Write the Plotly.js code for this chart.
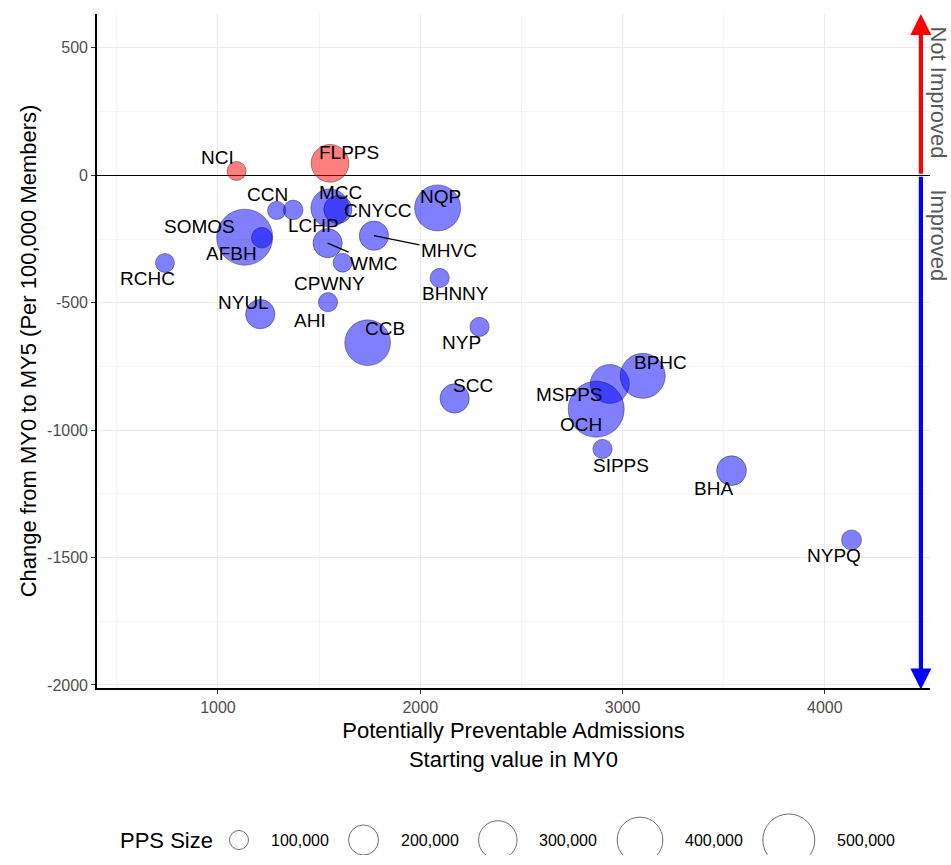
<!DOCTYPE html>
<html>
<head>
<meta charset="utf-8">
<script src="https://cdn.plot.ly/plotly-3.0.1.min.js"></script>
<style>
  html, body { margin: 0; padding: 0; background: #fff; }
  #chart { width: 951px; height: 865px; }
</style>
</head>
<body>
<div id="chart"></div>
<script>
// PPA scatter: starting value in MY0 vs change MY0 -> MY5, bubble = PPS size

const ppsNames = ['RCHC', 'NCI', 'FLPPS', 'CCN', 'LCHP', 'MCC', 'CNYCC', 'NQP', 'MHVC', 'SOMOS',
  'AFBH', 'WMC', 'CPWNY', 'BHNNY', 'AHI', 'NYUL', 'CCB', 'NYP', 'SCC', 'MSPPS',
  'BPHC', 'OCH', 'SIPPS', 'BHA', 'NYPQ'];
const startValue = [738, 1092, 1554, 1290, 1372, 1553, 1593, 2086, 1771, 1132,
  1217, 1542, 1616, 2096, 1544, 1209, 1740, 2293, 2170, 2937,
  3100, 2870, 2901, 3539, 4132];
const changeValue = [-344, 17, 47, -138, -136, -128, -134, -128, -237, -243,
  -245, -266, -343, -403, -498, -545, -657, -595, -876, -819,
  -787, -918, -1074, -1159, -1431];
const ppsMembers = [100000, 100000, 290000, 95000, 105000, 293000, 180000, 405000, 192000, 570000,
  113000, 191000, 100000, 102000, 102000, 192000, 400000, 102000, 192000, 306000,
  390000, 570000, 102000, 197000, 108000];

const xTicks = [1000, 2000, 3000, 4000];
const yTicks = [500, 0, -500, -1000, -1500, -2000];
const sizeBreaks = [100000, 200000, 300000, 400000, 500000];
const sizeBreakLabels = ['100,000', '200,000', '300,000', '400,000', '500,000'];

// label placement (px offset from the point, + is right / down)
const labelOffsets = {
  RCHC: [-17, 16], NCI: [-19, -13], FLPPS: [19, -11], CCN: [-9, -16], LCHP: [20, 16],
  MCC: [11, -15], CNYCC: [40, 1], NQP: [3, -11], SOMOS: [-45, -11], AFBH: [-30, 16],
  CPWNY: [-13, 21], BHNNY: [16, 16], AHI: [-18, 18], NYUL: [-17, -12], CCB: [17, -14],
  NYP: [-18, 16], SCC: [18, -13], MSPPS: [-40, 11], BPHC: [18, -13], OCH: [-15, 15],
  SIPPS: [18, 17], BHA: [-18, 18], NYPQ: [-18, 16]
};
// labels pushed away with a leader segment
const segmentLabels = { WMC: [46, 20], MHVC: [75, 15] };

const FONT = 'Liberation Sans, Arial, sans-serif';
const bubbleSize = v => -7.7 + 26.7 * Math.sqrt(v / 100000);

const fillFor = y => y > 0 ? 'rgba(255,0,0,0.5)' : 'rgba(0,0,255,0.5)';

const bubbles = {
  x: startValue,
  y: changeValue,
  type: 'scatter',
  mode: 'markers',
  marker: {
    size: ppsMembers.map(bubbleSize),
    sizemode: 'diameter',
    opacity: 1,
    color: changeValue.map(fillFor),
    line: { color: 'rgba(0,0,0,0.45)', width: 0.8 }
  },
  text: ppsNames,
  hovertemplate: '%{text}<extra></extra>',
  showlegend: false,
  cliponaxis: false
};

// size legend drawn on a hidden pixel-scaled axis pair
const legendSizes = sizeBreaks.map(bubbleSize);
const legendX = [];
legendSizes.forEach((d, i) => {
  legendX.push(i === 0 ? 239 : legendX[i - 1] + (legendSizes[i - 1] + d) / 2 + 100);
});
const legendY = 840;

const sizeLegend = {
  x: legendX,
  y: legendX.map(() => legendY),
  xaxis: 'x2',
  yaxis: 'y2',
  type: 'scatter',
  mode: 'markers',
  marker: { size: legendSizes, sizemode: 'diameter', opacity: 1, color: '#fff', line: { color: '#6e6e6e', width: 1 } },
  hoverinfo: 'skip',
  showlegend: false
};

const annotations = [];

ppsNames.forEach((name, i) => {
  if (labelOffsets[name]) {
    const [dx, dy] = labelOffsets[name];
    annotations.push({
      x: startValue[i], y: changeValue[i], xref: 'x', yref: 'y',
      text: name, showarrow: false, xshift: dx, yshift: -dy,
      font: { family: FONT, size: 19, color: '#000' }
    });
  } else if (segmentLabels[name]) {
    const [dx, dy] = segmentLabels[name];
    annotations.push({
      x: startValue[i], y: changeValue[i], xref: 'x', yref: 'y',
      text: name, showarrow: true, ax: dx, ay: dy,
      arrowhead: 0, arrowwidth: 1.3, arrowcolor: '#000', standoff: 0,
      font: { family: FONT, size: 19, color: '#000' }
    });
  }
});

// direction arrows on the right
const arrowX = 4475;
annotations.push(
  { x: arrowX, y: 633, ax: arrowX, ay: 0, xref: 'x', yref: 'y', axref: 'x', ayref: 'y',
    text: '', showarrow: true, arrowhead: 2, arrowsize: 1, arrowwidth: 4.2, arrowcolor: '#ff0000' },
  { x: arrowX, y: -2018, ax: arrowX, ay: 0, xref: 'x', yref: 'y', axref: 'x', ayref: 'y',
    text: '', showarrow: true, arrowhead: 2, arrowsize: 1, arrowwidth: 4.2, arrowcolor: '#0000ff' },
  { x: 1.0108, y: 325, xref: 'paper', yref: 'y', xanchor: 'center', yanchor: 'middle',
    text: 'Not Improved', textangle: 90, showarrow: false,
    font: { family: FONT, size: 22, color: '#595959' } },
  { x: 1.0108, y: -236, xref: 'paper', yref: 'y', xanchor: 'center', yanchor: 'middle',
    text: 'Improved', textangle: 90, showarrow: false,
    font: { family: FONT, size: 22, color: '#595959' } }
);

// size legend text
annotations.push({
  x: 118, y: legendY, xref: 'x2', yref: 'y2', xanchor: 'left', text: 'PPS Size',
  showarrow: false, font: { family: FONT, size: 22, color: '#000' }
});
sizeBreakLabels.forEach((lab, i) => {
  annotations.push({
    x: legendX[i] + legendSizes[i] / 2 + 20, y: legendY, xref: 'x2', yref: 'y2', xanchor: 'left',
    text: lab, showarrow: false, font: { family: FONT, size: 16, color: '#000' }
  });
});

const layout = {
  width: 951,
  height: 865,
  margin: { l: 97, r: 21, t: 14, b: 10 },
  paper_bgcolor: '#fff',
  plot_bgcolor: '#fff',
  font: { family: FONT },
  showlegend: false,
  xaxis: {
    domain: [0, 1], anchor: 'y',
    range: [402, 4520],
    tickvals: xTicks, ticktext: xTicks.map(String),
    showgrid: true, gridcolor: '#ebebeb', gridwidth: 1.2,
    minor: { tick0: 0, dtick: 500, showgrid: true, gridcolor: '#f4f4f4', gridwidth: 0.7 },
    zeroline: false,
    showline: true, linecolor: '#000', linewidth: 1.6,
    ticks: 'outside', ticklen: 4, tickcolor: '#333', tickwidth: 1,
    tickfont: { family: FONT, size: 16, color: '#4d4d4d' },
    title: { text: 'Potentially Preventable Admissions<br>Starting value in MY0', font: { family: FONT, size: 22, color: '#000' }, standoff: 8 }
  },
  yaxis: {
    domain: [0.1986, 1], anchor: 'x',
    range: [-2012, 633],
    tickvals: yTicks, ticktext: yTicks.map(String),
    showgrid: true, gridcolor: '#ebebeb', gridwidth: 1.2,
    minor: { tick0: 0, dtick: 250, showgrid: true, gridcolor: '#f4f4f4', gridwidth: 0.7 },
    zeroline: true, zerolinecolor: '#000', zerolinewidth: 1,
    showline: true, linecolor: '#000', linewidth: 1.6,
    ticks: 'outside', ticklen: 4, tickcolor: '#333', tickwidth: 1,
    tickfont: { family: FONT, size: 16, color: '#4d4d4d' },
    title: { text: 'Change from MY0 to MY5 (Per 100,000 Members)', font: { family: FONT, size: 22, color: '#000' }, standoff: 4 }
  },
  xaxis2: { domain: [0, 1], anchor: 'y2', range: [97, 930], visible: false, fixedrange: true },
  yaxis2: { domain: [0, 0.19], anchor: 'x2', range: [855, 695.2], visible: false, fixedrange: true },
  annotations: annotations
};

Plotly.newPlot('chart', [bubbles, sizeLegend], layout, { displayModeBar: false, responsive: false });
</script>
</body>
</html>
